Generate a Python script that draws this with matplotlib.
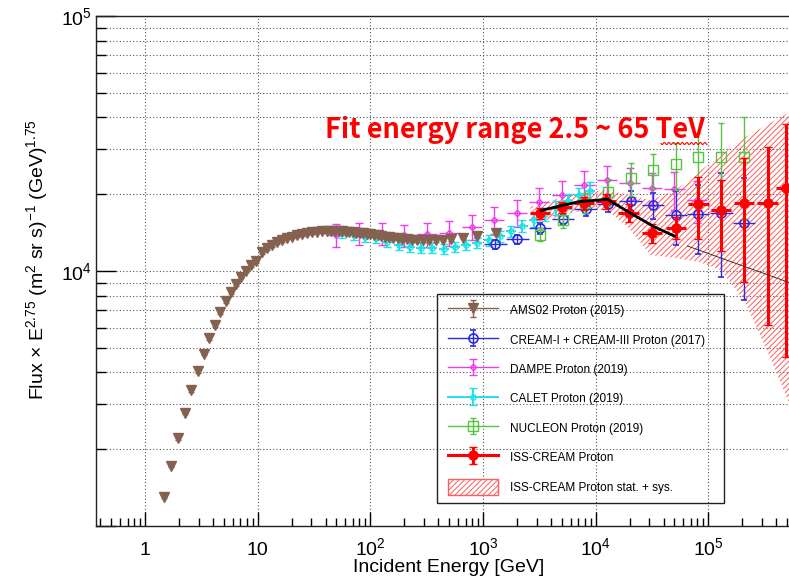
import numpy as np
import matplotlib
matplotlib.use("Agg")
import matplotlib.pyplot as plt
from matplotlib.ticker import FixedLocator, LogLocator, NullFormatter, FixedFormatter
from matplotlib.legend_handler import HandlerErrorbar, HandlerTuple
from matplotlib.container import ErrorbarContainer
from matplotlib.lines import Line2D
from matplotlib.patches import Patch, Rectangle

plt.rcParams["font.family"] = ["Liberation Sans", "DejaVu Sans"]
plt.rcParams["mathtext.fontset"] = "custom"
plt.rcParams["mathtext.rm"] = "Liberation Sans"
plt.rcParams["mathtext.it"] = "Liberation Sans:italic"
plt.rcParams["mathtext.bf"] = "Liberation Sans:bold"
plt.rcParams["hatch.linewidth"] = 0.7

# ---------------- data (GeV, flux x E^2.75) ----------------
ams_E = [1.475, 1.70, 1.977, 2.244, 2.58, 2.976, 3.345, 3.73, 4.22, 4.67, 5.28, 5.81,
         6.44, 7.18, 7.90, 8.70, 9.56, 10.9, 12.1, 13.4, 14.8, 16.4, 18.2, 20.2, 22.3,
         24.7, 27.4, 30.3, 33.6, 37.2, 41.2, 45.1, 48.5, 52.2, 56.1, 60.3, 64.8, 69.7,
         74.9, 80.5, 86.5, 93.0, 100, 108, 116, 125, 135, 147, 160, 175, 192, 211, 233,
         259, 291, 330, 379, 441, 525, 660, 880, 1300]
ams_F = [1303, 1724, 2213, 2782, 3405, 4055, 4740, 5445, 6140, 6886, 7606, 8253,
         8872, 9498, 10027, 10530, 10914, 11840, 12270, 12640, 12960, 13230, 13510, 13640, 13850,
         13970, 14100, 14200, 14260, 14300, 14350, 14350, 14350, 14330, 14300, 14280, 14250, 14200,
         14150, 14100, 14050, 14000, 13950, 13880, 13800, 13720, 13650, 13580, 13500, 13420, 13350, 13300, 13250,
         13220, 13200, 13200, 13220, 13260, 13350, 13500, 13750, 14100]
ams_relerr = 0.015

cream_E = [1290, 2015, 3200, 5120, 8150, 12850, 20470, 32300, 51400, 81200, 130600, 208000]
cream_F = [12760, 13350, 14750, 16000, 17500, 18320, 18870, 18100, 16580, 16700, 16850, 15380]
cream_relerr = [0.04, 0.04, 0.05, 0.05, 0.06, 0.07, 0.09, 0.12, 0.24, 0.30, 0.44, 0.50]

dampe_E = [50, 79, 126, 200, 316, 500, 800, 1260, 2000, 3160, 5000, 7940, 12600,
           20000, 31600, 50000, 79400]
dampe_F = [13850, 14000, 14000, 13800, 13950, 14100, 14880, 15850, 16890, 18650, 19870,
           21740, 22750, 22140, 21160, 20970, 18970]
dampe_relerr = [0.10, 0.10, 0.10, 0.10, 0.11, 0.11, 0.11, 0.12, 0.12, 0.13, 0.13, 0.13,
                0.13, 0.14, 0.15, 0.17, 0.19]

calet_E = [56, 71, 89, 112, 141, 178, 224, 282, 355, 447, 562, 708, 891, 1122, 1413,
           1778, 2239, 2818, 3548, 4467, 5623, 7079, 8913]
calet_F = [14050, 13850, 13630, 13430, 13030, 12650, 12470, 12270, 12270, 12200, 12470,
           12650, 12850, 13200, 13700, 14300, 15000, 15800, 16700, 17700, 18800, 19800, 20600]
calet_relerr = [0.045, 0.045, 0.045, 0.045, 0.045, 0.045, 0.045, 0.045, 0.045, 0.045, 0.045,
                0.045, 0.045, 0.05, 0.05, 0.05, 0.055, 0.055, 0.06, 0.06, 0.065, 0.07, 0.08]

nucleon_E = [3200, 5100, 8100, 12800, 20500, 32300, 51400, 81200, 130000, 208000]
nucleon_F = [13900, 15800, 18500, 20470, 23100, 24890, 26280, 28000, 27870, 28070]
nucleon_relerr = [0.06, 0.07, 0.09, 0.12, 0.15, 0.16, 0.21, 0.24, 0.36, 0.43]

iss_E = [3200, 5020, 7900, 12400, 19600, 31500, 51400, 81700, 130000, 208000, 336000, 490000]
iss_F = [16840, 17820, 18430, 18800, 16930, 14130, 14800, 18320, 17350, 18430, 18430, 21090]
iss_err = [800, 900, 1100, 1300, 1300, 1200, 1500, 5000, 5400, 9400, 12300, 16500]

band_E = [2645, 3245, 4890, 7820, 12530, 19640, 30800, 51400, 82300, 129000, 207000, 331000, 530000]
band_hi = [17820, 18460, 19310, 20420, 20770, 19870, 18960, 20770, 24450, 28500, 33230, 37360, 42030]
band_lo = [15570, 15570, 16430, 17350, 17350, 14740, 11550, 11240, 10850, 10090, 7700, 4900, 2983]

fit_E = [3200, 7110, 12700, 20460, 32960, 51400]
fit_F = [17240, 18700, 19110, 16840, 14920, 13630]
ext_E = [65300, 530000]
ext_F = [12530, 8990]

x_ticks = [1, 10, 100, 1e3, 1e4, 1e5]
x_tick_labels = ["1", "10", "$10^{2}$", "$10^{3}$", "$10^{4}$", "$10^{5}$"]
y_ticks = [1e3, 1e4, 1e5]
y_tick_labels = ["", "$10^{4}$", "$10^{5}$"]

labels = ["AMS02 Proton (2015)", "CREAM-I + CREAM-III Proton (2017)", "DAMPE Proton (2019)",
          "CALET Proton (2019)", "NUCLEON Proton (2019)", "ISS-CREAM Proton",
          "ISS-CREAM Proton stat. + sys."]

# ---------------- figure ----------------
W, H = 789, 580
fig = plt.figure(figsize=(W / 100, H / 100), dpi=100)
ax = fig.add_axes([96 / W, 1 - 526 / H, (W - 96) / W, 510 / H])
ax.set_xscale("log")
ax.set_yscale("log")
ax.set_xlim(0.367, 5.2e5)
ax.set_ylim(1e3, 1e5)
ax.set_axisbelow(True)

ax.xaxis.set_major_locator(FixedLocator(x_ticks))
ax.xaxis.set_major_formatter(FixedFormatter(x_tick_labels))
ax.xaxis.set_minor_locator(LogLocator(base=10, subs=np.arange(2, 10), numticks=40))
ax.xaxis.set_minor_formatter(NullFormatter())
ax.yaxis.set_major_locator(FixedLocator(y_ticks))
ax.yaxis.set_major_formatter(FixedFormatter(y_tick_labels))
ax.yaxis.set_minor_locator(LogLocator(base=10, subs=np.arange(2, 10), numticks=40))
ax.yaxis.set_minor_formatter(NullFormatter())

grid_kw = dict(color="#555555", linestyle=(0, (1, 2)), linewidth=0.8)
ax.grid(True, which="major", axis="x", **grid_kw)
ax.grid(True, which="both", axis="y", **grid_kw)

ax.tick_params(axis="x", which="major", direction="in", length=10, width=1.0,
               labelsize=14, pad=21)
ax.tick_params(axis="x", which="minor", direction="in", length=5.8, width=1.0)
ax.tick_params(axis="y", which="major", direction="in", length=14.4, width=1.0,
               labelsize=14, pad=3)
ax.tick_params(axis="y", which="minor", direction="in", length=7.2, width=1.0)
for lab in ax.get_xticklabels():
    lab.set_verticalalignment("baseline")
ax.spines["right"].set_visible(False)
for s in ("left", "bottom", "top"):
    ax.spines[s].set_linewidth(1.0)
    ax.spines[s].set_color("#222222")


def series(E, F, yerr, half_dec, color, marker, ms, mfc, lw, cap, z, mew=1.0):
    E = np.asarray(E, float)
    F = np.asarray(F, float)
    if half_dec > 0:
        xerr = [E * (1 - 10 ** -half_dec), E * (10 ** half_dec - 1)]
        ax.errorbar(E, F, xerr=xerr, fmt="none", ecolor=color, elinewidth=lw,
                    capsize=0, zorder=z)
    cont = ax.errorbar(E, F, yerr=yerr, fmt=marker, color=color, ms=ms, mfc=mfc,
                       mec=color, mew=mew, elinewidth=lw, capsize=cap, capthick=lw,
                       zorder=z)
    return (Line2D([], [], color=color, lw=lw), cont)


c_ams, c_cream, c_dampe = "#85624f", "#2a2ae0", "#ee3cee"
c_calet, c_nuc, c_iss, c_band = "#22e0e8", "#55c43f", "#ff0000", "#ff5c5c"

ax.fill_between(band_E, band_lo, band_hi, facecolor="none", edgecolor=c_band,
                hatch="//////", linewidth=0, zorder=2)

h_dampe = series(dampe_E, dampe_F, np.array(dampe_F) * np.array(dampe_relerr), 0.09,
                 c_dampe, "D", 3.2, "none", 1.0, 3.0, 3)
h_calet = series(calet_E, calet_F, np.array(calet_F) * np.array(calet_relerr), 0.045,
                 c_calet, "o", 3.8, "none", 1.4, 3.2, 4)
h_ams = series(ams_E, ams_F, np.array(ams_F) * ams_relerr, 0, c_ams, "v", 7, c_ams,
               1.0, 2.0, 5)
h_cream = series(cream_E, cream_F, np.array(cream_F) * np.array(cream_relerr), 0.1,
                 c_cream, "o", 6.5, "none", 1.0, 2.5, 6, mew=1.2)
h_nuc = series(nucleon_E, nucleon_F, np.array(nucleon_F) * np.array(nucleon_relerr), 0,
               c_nuc, "s", 7, "none", 1.0, 2.5, 6.5, mew=1.0)
h_iss = series(iss_E, iss_F, iss_err, 0.09, c_iss, "o", 6.5, c_iss, 2.2, 2.6, 8)

ax.plot(fit_E, fit_F, color="black", lw=2.0, zorder=9, solid_capstyle="butt")
ax.plot(ext_E, ext_F, color="#333333", lw=0.7, zorder=9)

h_band = Patch(facecolor="white", edgecolor=c_band, hatch="//////", linewidth=1.0)

handles = [h_ams, h_cream, h_dampe, h_calet, h_nuc, h_iss, h_band]
leg = ax.legend(handles, labels, loc="upper left", bbox_to_anchor=(448 / W, 1 - 302.5 / H),
                bbox_transform=fig.transFigure, frameon=False, fontsize=8.5,
                borderpad=0, borderaxespad=0, handlelength=4.25, handleheight=1.7,
                handletextpad=0.96, labelspacing=1.14, numpoints=1,
                handler_map={tuple: HandlerTuple(ndivide=1, pad=0),
                             ErrorbarContainer: HandlerErrorbar(yerr_size=0.7, numpoints=1)})
leg.set_zorder(20)
fig.add_artist(Rectangle((437 / W, 1 - 503 / H), (724 - 437) / W, (503 - 294) / H,
                         transform=fig.transFigure, fill=False, edgecolor="#222222",
                         linewidth=1.0, zorder=21))

# title annotation
fig.text(515 / W, 1 - 138 / H, "Fit energy range 2.5 ~ 65 TeV", ha="center",
         va="baseline", color="red", fontsize=19.5, fontweight="bold",
         family=["Noto Sans CJK KR", "DejaVu Sans"])
sq_x = np.linspace(661, 707, 60)
sq_y = 143.5 + 1.1 * np.sin(2 * np.pi * (sq_x - 661) / 4.5)
fig.add_artist(Line2D(sq_x / W, 1 - sq_y / H, transform=fig.transFigure, color="red",
                      lw=0.8))

fig.text(37 / W, 1 - 260 / H,
         "Flux \u00d7 E$^{2.75}$ (m$^{2}$ sr s)$^{-1}$ (GeV)$^{1.75}$",
         rotation=90, ha="center", va="center", fontsize=14)
fig.text(449 / W, 1 - 567 / H, "Incident Energy [GeV]", ha="center", va="center",
         fontsize=14)

fig.savefig("out.png", dpi=100)
